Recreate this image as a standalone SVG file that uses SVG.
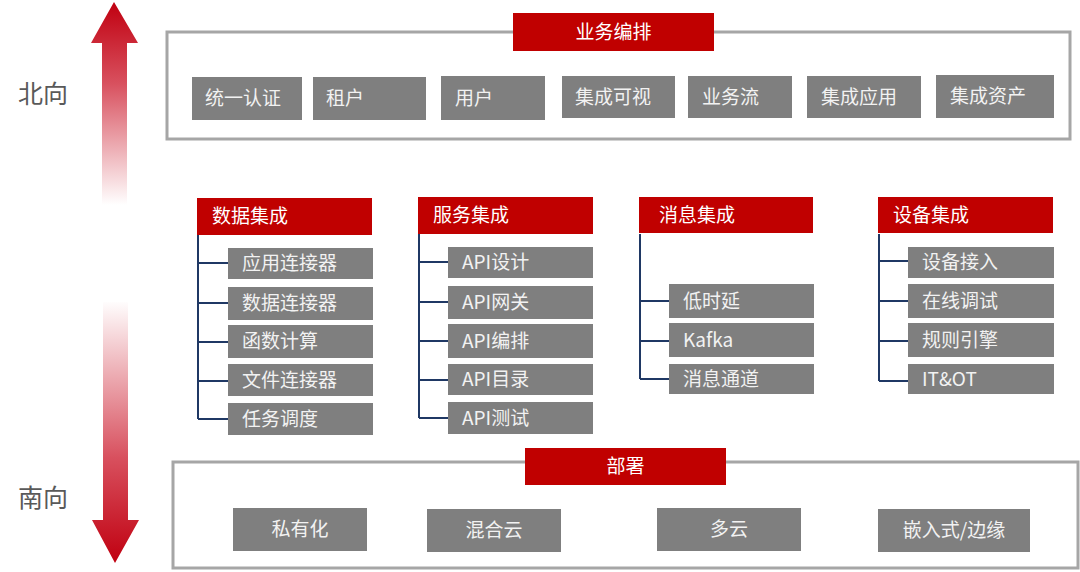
<svg xmlns="http://www.w3.org/2000/svg" width="1080" height="572" viewBox="0 0 1080 572">
<defs>
<linearGradient id="gUp" x1="0" y1="2" x2="0" y2="205" gradientUnits="userSpaceOnUse">
<stop offset="0" stop-color="#c00010"/>
<stop offset="0.4" stop-color="#d8505e"/>
<stop offset="1" stop-color="#ffffff"/>
</linearGradient>
<linearGradient id="gDown" x1="0" y1="300" x2="0" y2="563" gradientUnits="userSpaceOnUse">
<stop offset="0" stop-color="#ffffff"/>
<stop offset="0.6" stop-color="#d8505e"/>
<stop offset="1" stop-color="#c00010"/>
</linearGradient>
<style>
text{font-family:"Noto Sans CJK SC","Microsoft YaHei","Noto Sans",sans-serif;dominant-baseline:central}
.frame{fill:#ffffff;stroke:#a6a6a6;stroke-width:3}
.title{fill:#c00000}
.item{fill:#7f7f7f}
.hd{fill:#ffffff;font-size:19px}
.it{fill:#f2f2f2;font-size:19px}
.side{fill:#595959;font-size:25px}
.conn{fill:none;stroke:#1f3864;stroke-width:2}
</style>
</defs>

<g id="arrows">
<polygon points="114,2 138,43 127,43 127,205 102,205 102,43 91,43" fill="url(#gUp)"/>
<polygon points="103,302 128,302 128,520 139,520 115,563 92,520 103,520" fill="url(#gDown)"/>
<text class="side" x="18" y="92">北向</text>
<text class="side" x="18" y="496">南向</text>
</g>

<g id="north">
<rect class="frame" x="167" y="32" width="903" height="107"/>
<rect class="title" x="513" y="13" width="201" height="38"/>
<text class="hd" x="613.5" y="30.5" text-anchor="middle">业务编排</text>
<g id="n1"><rect class="item" x="192" y="77" width="110" height="43"/><text class="it" x="205" y="96.5">统一认证</text></g>
<g id="n2"><rect class="item" x="313" y="77" width="113" height="43"/><text class="it" x="326" y="96.5">租户</text></g>
<g id="n3"><rect class="item" x="441" y="76" width="104" height="44"/><text class="it" x="455" y="96">用户</text></g>
<g id="n4"><rect class="item" x="562" y="76" width="113" height="42"/><text class="it" x="575" y="95">集成可视</text></g>
<g id="n5"><rect class="item" x="688" y="76" width="104" height="42"/><text class="it" x="702" y="95">业务流</text></g>
<g id="n6"><rect class="item" x="807" y="76" width="114" height="42"/><text class="it" x="821" y="95">集成应用</text></g>
<g id="n7"><rect class="item" x="936" y="75" width="118" height="43"/><text class="it" x="950" y="94.5">集成资产</text></g>
</g>

<g id="connectors">
<path class="conn" d="M198,234 V419 M198,263 H228 M198,303 H228 M198,342 H228 M198,381 H228 M198,419 H228"/>
<path class="conn" d="M419,234 V418 M419,262 H448 M419,302 H448 M419,341 H448 M419,380 H448 M419,418 H448"/>
<path class="conn" d="M640,234 V379 M640,301 H669 M640,341 H669 M640,379 H669"/>
<path class="conn" d="M879,234 V381 M879,261 H908 M879,301 H908 M879,341 H908 M879,381 H908"/>
</g>

<g id="data">
<rect class="title" x="197" y="198" width="175" height="37"/>
<text class="hd" x="212" y="214.5">数据集成</text>
<g id="d1"><rect class="item" x="228" y="248" width="145" height="31"/><text class="it" x="242" y="261.5">应用连接器</text></g>
<g id="d2"><rect class="item" x="228" y="287" width="145" height="33"/><text class="it" x="242" y="301.5">数据连接器</text></g>
<g id="d3"><rect class="item" x="228" y="325" width="145" height="33"/><text class="it" x="242" y="339.5">函数计算</text></g>
<g id="d4"><rect class="item" x="228" y="364" width="145" height="32"/><text class="it" x="242" y="378">文件连接器</text></g>
<g id="d5"><rect class="item" x="228" y="403" width="145" height="32"/><text class="it" x="242" y="417">任务调度</text></g>
</g>

<g id="service">
<rect class="title" x="418" y="197" width="175" height="37"/>
<text class="hd" x="433" y="213.5">服务集成</text>
<g id="s1"><rect class="item" x="448" y="247" width="145" height="31"/><text class="it" x="462" y="260.5">API设计</text></g>
<g id="s2"><rect class="item" x="448" y="286" width="145" height="33"/><text class="it" x="462" y="300.5">API网关</text></g>
<g id="s3"><rect class="item" x="448" y="324" width="145" height="34"/><text class="it" x="462" y="339">API编排</text></g>
<g id="s4"><rect class="item" x="448" y="364" width="145" height="31"/><text class="it" x="462" y="377.5">API目录</text></g>
<g id="s5"><rect class="item" x="448" y="402" width="145" height="32"/><text class="it" x="462" y="416">API测试</text></g>
</g>

<g id="message">
<rect class="title" x="639" y="197" width="174" height="36"/>
<text class="hd" x="659" y="213">消息集成</text>
<g id="m1"><rect class="item" x="669" y="284" width="145" height="34"/><text class="it" x="683" y="299">低时延</text></g>
<g id="m2"><rect class="item" x="669" y="323" width="145" height="34"/><text class="it" x="683" y="338">Kafka</text></g>
<g id="m3"><rect class="item" x="669" y="364" width="145" height="30"/><text class="it" x="683" y="377">消息通道</text></g>
</g>

<g id="device">
<rect class="title" x="878" y="197" width="175" height="36"/>
<text class="hd" x="893" y="213">设备集成</text>
<g id="v1"><rect class="item" x="908" y="247" width="146" height="31"/><text class="it" x="922" y="260.5">设备接入</text></g>
<g id="v2"><rect class="item" x="908" y="284" width="146" height="34"/><text class="it" x="922" y="299">在线调试</text></g>
<g id="v3"><rect class="item" x="908" y="323" width="146" height="34"/><text class="it" x="922" y="338">规则引擎</text></g>
<g id="v4"><rect class="item" x="908" y="364" width="146" height="30"/><text class="it" x="922" y="377">IT&amp;OT</text></g>
</g>

<g id="south">
<rect class="frame" x="173" y="462" width="905" height="106"/>
<rect class="title" x="525" y="448" width="201" height="37"/>
<text class="hd" x="625.5" y="464.5" text-anchor="middle">部署</text>
<g id="b1"><rect class="item" x="233" y="508" width="134" height="43"/><text class="it" x="300" y="527.5" text-anchor="middle">私有化</text></g>
<g id="b2"><rect class="item" x="427" y="509" width="134" height="43"/><text class="it" x="494" y="528.5" text-anchor="middle">混合云</text></g>
<g id="b3"><rect class="item" x="657" y="508" width="144" height="43"/><text class="it" x="729" y="527.5" text-anchor="middle">多云</text></g>
<g id="b4"><rect class="item" x="878" y="509" width="152" height="43"/><text class="it" x="954" y="528.5" text-anchor="middle">嵌入式/边缘</text></g>
</g>
</svg>
